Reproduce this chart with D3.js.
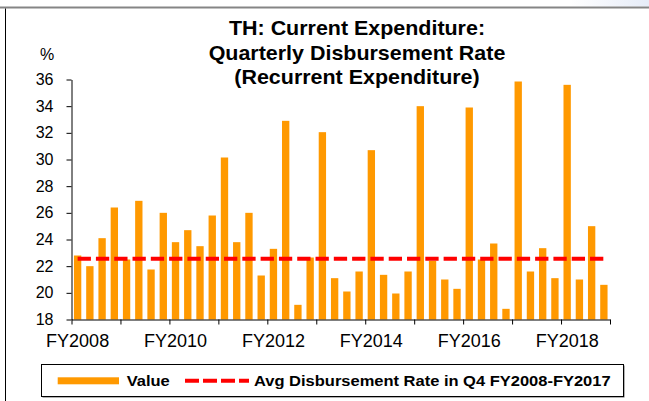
<!DOCTYPE html>
<html>
<head>
<meta charset="utf-8">
<script src="https://cdn.jsdelivr.net/npm/d3@7"></script>
<style>
  body { margin: 0; background: #fff; }
  svg { display: block; font-family: "Liberation Sans", Arial, sans-serif; }
</style>
</head>
<body>
<svg id="chart" width="649" height="401"></svg>
<script>
// ---- data ----
var fiscalYears = ["FY2008", "FY2009", "FY2010", "FY2011", "FY2012", "FY2013",
                   "FY2014", "FY2015", "FY2016", "FY2017", "FY2018"];
var quarterNames = ["Q1", "Q2", "Q3", "Q4"];
// quarterly disbursement rate, %, FY2008 Q1 .. FY2018 Q4
var rateValues = [
  22.8, 22.0, 24.1, 26.4,
  22.5, 26.9, 21.75, 26.0,
  23.8, 24.7, 23.5, 25.8,
  30.15, 23.8, 26.0, 21.3,
  23.3, 32.9, 19.1, 22.65,
  32.05, 21.1, 20.1, 21.6,
  30.7, 21.35, 19.95, 21.6,
  34.0, 22.4, 21.0, 20.3,
  33.9, 22.5, 23.7, 18.8,
  35.85, 21.6, 23.35, 21.1,
  35.6, 21.0, 25.0, 20.6
];
var avgQ4Rate = 22.55;
var yTicks = [18, 20, 22, 24, 26, 28, 30, 32, 34, 36];
var xLabelYears = ["FY2008", "FY2010", "FY2012", "FY2014", "FY2016", "FY2018"];
var titleLines = ["TH: Current Expenditure:", "Quarterly Disbursement Rate", "(Recurrent Expenditure)"];
var legendNames = ["Value", "Avg Disbursement Rate in Q4 FY2008-FY2017"];

var barColor = "#ff9900",
    avgColor = "#ff0000";

var svg = d3.select("#chart");

var categories = [];
fiscalYears.forEach(function(fy) {
  quarterNames.forEach(function(q) { categories.push(fy + " " + q); });
});

// plot area edges
var plotL = 71.5, plotR = 610, plotT = 79.5, plotB = 319.5;

var x = d3.scaleBand()
  .domain(categories)
  .range([plotL, plotR])
  .paddingInner(0.4)
  .paddingOuter(0.2);

// year boundaries for the tick marks
var xYears = d3.scaleLinear()
  .domain([0, fiscalYears.length])
  .range([plotL, plotR]);

var y = d3.scaleLinear()
  .domain([18, 36])
  .range([plotB, plotT]);

// frame bits of the slide
var grad = svg.append("defs").append("linearGradient")
  .attr("id", "corner")
  .attr("x1", "0").attr("x2", "1");
grad.append("stop").attr("offset", "0").attr("stop-color", "#ffffff");
grad.append("stop").attr("offset", "1").attr("stop-color", "#e6ecf8");
svg.append("rect").attr("x", 570).attr("y", 0).attr("width", 79).attr("height", 6.5)
  .attr("fill", "url(#corner)");
svg.append("rect").attr("x", 0).attr("y", 6.5).attr("width", 649).attr("height", 2)
  .attr("fill", "#858585");
svg.append("line").attr("x1", 5.5).attr("x2", 5.5).attr("y1", 8.5).attr("y2", 401)
  .attr("stroke", "#000").attr("stroke-width", 1);

// stretched text helper (source text is a bit wider than the font)
function stretched(g, txt, px, py, sx, anchor) {
  return g.append("text")
    .attr("transform", "translate(" + px + "," + py + ") scale(" + sx + ",1)")
    .attr("text-anchor", anchor || "start")
    .text(txt);
}

// title
var title = svg.append("g")
  .attr("font-size", "19.5px")
  .attr("font-weight", "bold")
  .attr("fill", "#000");
var titleY = [34.7, 59.5, 83.5];
titleLines.forEach(function(t, i) {
  stretched(title, t, 357, titleY[i], 1.1, "middle");
});

// unit label
svg.append("text")
  .attr("x", 47).attr("y", 60)
  .attr("text-anchor", "middle")
  .attr("font-size", "16px")
  .text("%");

// bars
svg.append("g").selectAll("rect")
  .data(rateValues)
  .join("rect")
  .attr("x", function(d, i) { return x(categories[i]); })
  .attr("y", function(d) { return y(d); })
  .attr("width", x.bandwidth())
  .attr("height", function(d) { return plotB - y(d); })
  .attr("fill", barColor);

// average line
var first = x(categories[0]) + x.bandwidth() / 2,
    last = x(categories[categories.length - 1]) + x.bandwidth() / 2;
svg.append("line")
  .attr("x1", first).attr("x2", last)
  .attr("y1", y(avgQ4Rate)).attr("y2", y(avgQ4Rate))
  .attr("stroke", avgColor)
  .attr("stroke-width", 4)
  .attr("stroke-dasharray", "13.3,5");

// y axis
var yAxis = svg.append("g")
  .attr("transform", "translate(" + plotL + ",0)")
  .call(d3.axisLeft(y).tickValues(yTicks).tickSize(5).tickPadding(13).tickSizeOuter(0));
yAxis.selectAll("text").attr("font-size", "16px").attr("fill", "#000").attr("font-family", null);
yAxis.selectAll("line, path").attr("stroke", "#000");

// x axis (ticks at year boundaries, labels under Q1 of even years)
var xAxis = svg.append("g")
  .attr("transform", "translate(0," + plotB + ")")
  .call(d3.axisBottom(xYears).tickValues(d3.range(0, fiscalYears.length + 1))
    .tickSize(5).tickSizeOuter(0).tickFormat(""));
xAxis.selectAll("line, path").attr("stroke", "#000");

svg.append("g")
  .attr("font-size", "18px")
  .selectAll("text")
  .data(xLabelYears)
  .join("text")
  .attr("x", function(d) { return x(d + " Q1") + x.bandwidth() / 2; })
  .attr("y", 346.7)
  .attr("text-anchor", "middle")
  .text(function(d) { return d; });

// legend
var legend = svg.append("g");
legend.append("rect")
  .attr("x", 42.5).attr("y", 365.5).attr("width", 582).attr("height", 32)
  .attr("fill", "#666");
legend.append("rect")
  .attr("x", 41.5).attr("y", 364.5).attr("width", 582).attr("height", 32)
  .attr("fill", "#fff").attr("stroke", "#000").attr("stroke-width", 1);
legend.append("rect")
  .attr("x", 57.7).attr("y", 377.3).attr("width", 61.3).attr("height", 7)
  .attr("fill", barColor);
legend.append("line")
  .attr("x1", 185).attr("x2", 249).attr("y1", 380.8).attr("y2", 380.8)
  .attr("stroke", avgColor).attr("stroke-width", 4)
  .attr("stroke-dasharray", "14,4");
var legendText = legend.append("g")
  .attr("font-size", "15px")
  .attr("font-weight", "bold");
stretched(legendText, legendNames[0], 126.7, 386, 1.1);
stretched(legendText, legendNames[1], 254, 386, 1.1);
</script>
</body>
</html>
